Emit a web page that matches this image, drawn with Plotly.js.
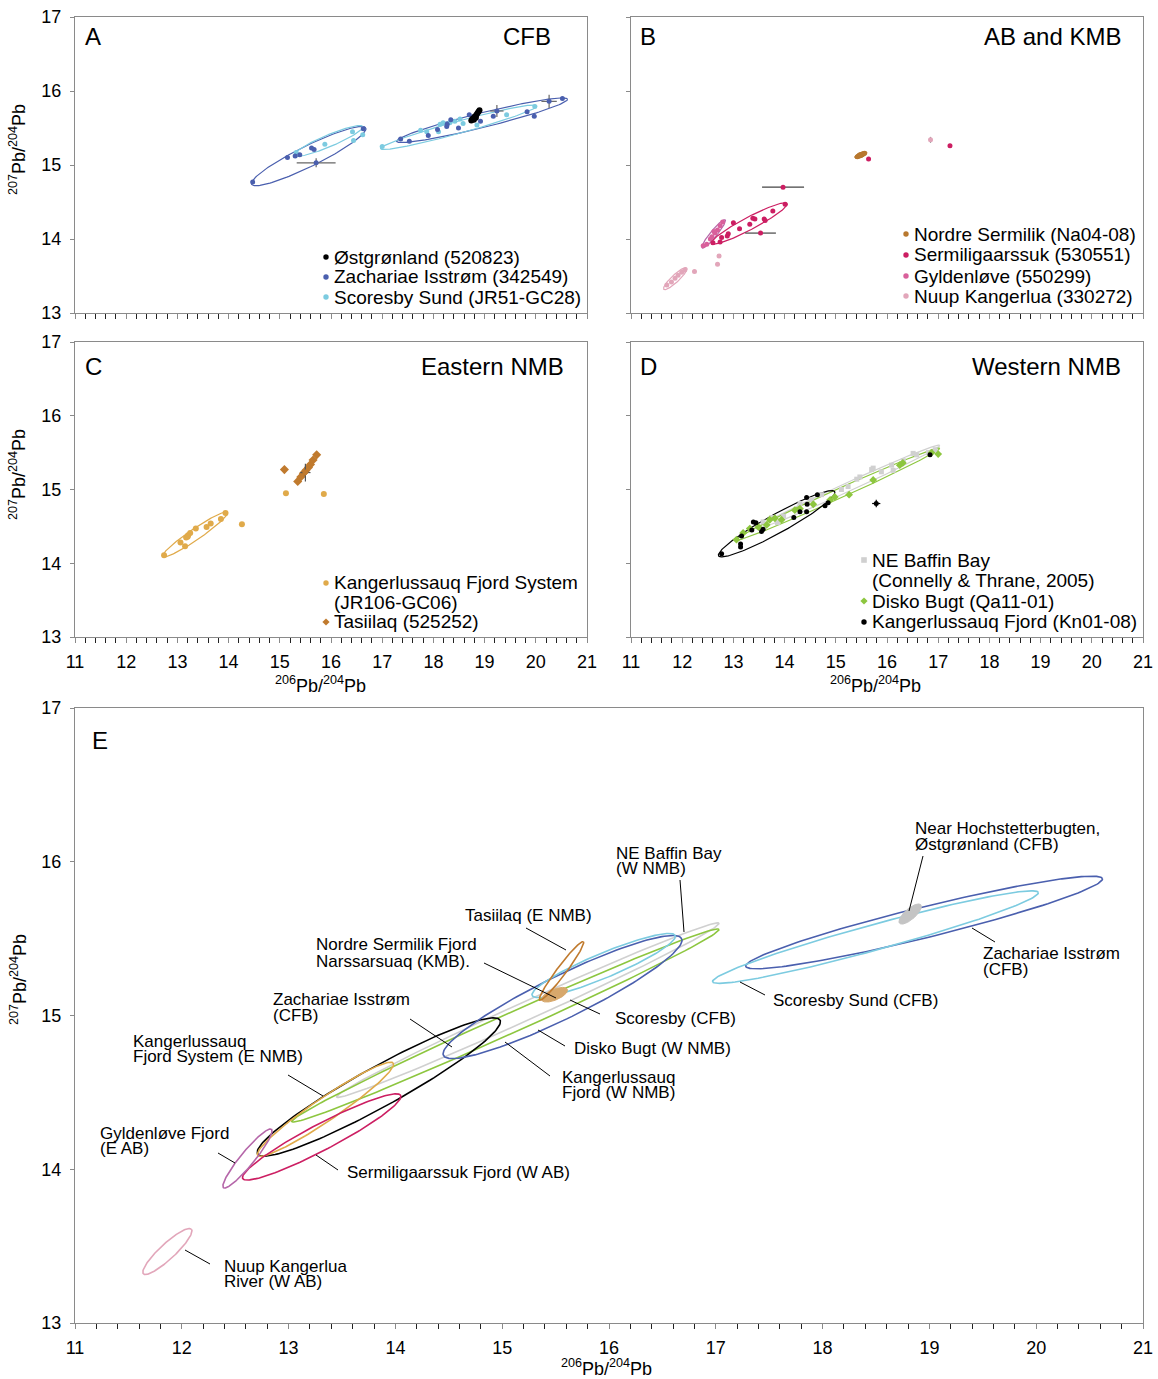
<!DOCTYPE html>
<html>
<head>
<meta charset="utf-8">
<script src="https://cdn.plot.ly/plotly-3.0.1.min.js"></script>
<style>html,body{margin:0;padding:0;background:#fff}#chart{width:1158px;height:1379px}</style>
</head>
<body>
<div id="chart"></div>
<script>
// ---------- Panel A: CFB ----------
const zachariaeX = [14.47,15.15,15.30,15.39,15.62,15.67,16.63,17.36,17.53,17.90,18.08,18.26,18.27,18.34,18.49,18.70,18.92,19.17,19.83,19.97,20.52];
const zachariaeY = [14.77,15.10,15.12,15.14,15.23,15.21,15.49,15.35,15.32,15.40,15.48,15.52,15.55,15.61,15.50,15.68,15.59,15.66,15.72,15.66,15.90];
const zachErrX = [15.71,19.24,20.26];
const zachErrY = [15.03,15.73,15.86];
const zachErrDx = [0.38,0.13,0.15];
const zachErrDy = [0.06,0.08,0.09];
const scoresbyX = [15.32,15.88,16.42,16.44,16.62,17.00,17.75,17.87,18.10,18.13,18.19,18.32,18.42,18.52,18.58,18.85,19.43,19.98];
const scoresbyY = [15.17,15.28,15.45,15.33,15.41,15.25,15.47,15.45,15.45,15.55,15.57,15.57,15.59,15.62,15.56,15.54,15.68,15.79];
const ostX = [18.74,18.76,18.78,18.80,18.82,18.84,18.86,18.88,18.90,18.79,18.83];
const ostY = [15.60,15.62,15.63,15.65,15.66,15.68,15.70,15.72,15.74,15.61,15.64];

// ---------- Panel B: AB and KMB ----------
const nordreX = [15.42,15.45,15.48,15.50,15.53,15.56,15.47];
const nordreY = [15.11,15.12,15.13,15.14,15.15,15.16,15.14];
const sermX = [15.64,17.23,14.01,13.77,13.60,13.62,13.38,13.42,13.32,13.12,13.00,12.90,12.88,12.77,12.74,12.60];
const sermY = [15.08,15.26,14.47,14.38,14.27,14.25,14.28,14.27,14.20,14.14,14.22,14.07,14.04,14.02,13.96,13.95];
const sermErrX = [13.97,13.53];
const sermErrY = [14.70,14.08];
const sermErrDx = [0.41,0.30];
const gyldX = [12.41,12.48,12.58,12.64,12.69,12.74,12.79,12.55,12.62];
const gyldY = [13.91,13.93,14.03,14.08,14.12,14.18,14.23,14.00,14.10];
const nuupX = [11.70,11.79,11.86,11.92,11.99,12.05,12.24,12.69,12.72];
const nuupY = [13.38,13.42,13.47,13.51,13.55,13.58,13.56,13.66,13.77];
const nuupErrX = [16.85];
const nuupErrY = [15.34];
const nuupErrDy = [0.04];

// ---------- Panel C: Eastern NMB ----------
const kfsX = [12.74,13.06,13.15,13.17,13.21,13.25,13.20,13.36,13.57,13.65,13.85,13.94,14.26,15.12,15.86];
const kfsY = [14.11,14.28,14.23,14.35,14.38,14.41,14.36,14.47,14.49,14.54,14.60,14.68,14.53,14.95,14.94];
const tasiX = [15.09,15.35,15.41,15.46,15.51,15.56,15.60,15.65,15.72];
const tasiY = [15.27,15.11,15.17,15.22,15.26,15.30,15.34,15.40,15.47];
const tasiErrX = [15.50];
const tasiErrY = [15.23];
const tasiErrDx = [0.10];
const tasiErrDy = [0.12];

// ---------- Panel D: Western NMB ----------
const baffinX = [13.58,13.75,13.86,13.98,14.30,14.53,14.72,15.11,15.24,15.41,15.47,15.70,15.73,15.89,16.09,16.12,16.32,16.51,16.58,16.81,16.94];
const baffinY = [14.56,14.62,14.55,14.64,14.81,14.86,14.93,15.00,15.04,15.14,15.17,15.27,15.29,15.24,15.33,15.26,15.39,15.49,15.47,15.50,15.54];
const diskoX = [13.06,13.19,13.32,13.49,13.65,13.71,13.81,13.94,14.20,14.30,14.56,14.89,14.98,15.26,15.73,16.25,16.31,16.87,17.00];
const diskoY = [14.32,14.41,14.47,14.49,14.52,14.59,14.61,14.59,14.72,14.74,14.80,14.86,14.90,14.93,15.13,15.33,15.36,15.50,15.48];
const kfX = [12.77,13.14,13.14,13.16,13.36,13.39,13.44,13.55,13.58,14.18,14.30,14.43,14.44,14.43,14.64,14.79,14.85,16.84];
const kfY = [14.13,14.26,14.22,14.37,14.45,14.56,14.55,14.43,14.46,14.62,14.70,14.70,14.80,14.89,14.93,14.78,14.82,15.47];
const kfErrX = [15.79];
const kfErrY = [14.81];
const kfErrDx = [0.08];
const kfErrDy = [0.05];

// ---------- Confidence ellipses: major-axis ends (x1,y1)-(x2,y2) and half-width in 207Pb/204Pb units ----------
const ellipseNames = ['zachL','zachR','scorL','scorR','hoch','nordre','serm','gyld','nuup','kfs','tasi','kf','disko','baffin'];
const ellipseX1 = [14.45,17.28,15.28,16.97,18.72,15.37,12.57,12.39,11.64,12.71,15.35,12.71,13.03,13.45];
const ellipseY1 = [14.74,15.32,15.13,15.22,15.60,15.10,13.94,13.88,13.32,14.09,15.10,14.10,14.31,14.47];
const ellipseX2 = [16.68,20.62,16.62,20.02,18.92,15.61,14.05,12.84,12.09,13.98,15.76,14.98,17.03,17.03];
const ellipseY2 = [15.50,15.89,15.52,15.80,15.72,15.17,14.48,14.26,13.61,14.69,15.48,14.97,15.56,15.60];
const ellipseHalfW = [0.14,0.10,0.08,0.083,0.035,0.035,0.085,0.045,0.05,0.075,0.03,0.13,0.065,0.06];

const FONT = 'Liberation Sans, Arial, Helvetica, sans-serif';
const W = 1158, H = 1379;
const C = {
  zach: '#4a5fae', scor: '#7ccbe0', ost: '#000000', hochFill: '#c4c4c4',
  nordre: '#b8782f', nordreFill: '#d7a86c', serm: '#cc1e62', gyld: '#d9609b', gyldLine: '#b566a9',
  nuup: '#e2a6ba', kfs: '#e0aa4a', tasi: '#c07a2e', baffin: '#d0d0d0', disko: '#8dc63f', kf: '#000000'
};

// aspect of one 207Pb/204Pb unit relative to one 206Pb/204Pb unit on screen
const K = 1.44;
function ellipse(i, n) {
  n = n || 160;
  const x1 = ellipseX1[i], y1 = ellipseY1[i], x2 = ellipseX2[i], y2 = ellipseY2[i];
  const cx = (x1 + x2) / 2, cy = (y1 + y2) / 2;
  const dx = x2 - x1, dy = (y2 - y1) * K;
  const L = Math.hypot(dx, dy), a = L / 2, ux = dx / L, uy = dy / L;
  const b = ellipseHalfW[i] * K;
  const xs = [], ys = [];
  for (let j = 0; j <= n; j++) {
    const t = 2 * Math.PI * j / n;
    const X = a * Math.cos(t) * ux - b * Math.sin(t) * uy;
    const Y = a * Math.cos(t) * uy + b * Math.sin(t) * ux;
    xs.push(cx + X); ys.push(cy + Y / K);
  }
  return {xs, ys};
}
function ell(name, color, ax, width, fill) {
  const e = ellipse(ellipseNames.indexOf(name));
  const tr = {x: e.xs, y: e.ys, type: 'scatter', mode: 'lines', line: {color, width: width || 1.2},
    xaxis: 'x' + ax, yaxis: 'y' + ax, hoverinfo: 'skip', showlegend: false};
  if (fill) { tr.fill = 'toself'; tr.fillcolor = fill; }
  return tr;
}
function pts(x, y, color, ax, symbol, size) {
  return {x, y, type: 'scatter', mode: 'markers', xaxis: 'x' + ax, yaxis: 'y' + ax, showlegend: false,
    marker: {color, size: size || 5, symbol: symbol || 'circle', line: {width: 0}}};
}
function errPts(x, y, dx, dy, color, ax, barColor, symbol) {
  const t = pts(x, y, color, ax, symbol);
  if (dx) t.error_x = {type: 'data', array: dx, visible: true, color: barColor, thickness: 1.2, width: 0};
  if (dy) t.error_y = {type: 'data', array: dy, visible: true, color: barColor, thickness: 1.2, width: 0};
  return t;
}

const traces = [
  // A
  ell('zachL', C.zach, '', 1.2), ell('zachR', C.zach, '', 1.2),
  ell('scorL', C.scor, '', 1.2), ell('scorR', C.scor, '', 1.2),
  pts(scoresbyX, scoresbyY, C.scor, ''),
  pts(zachariaeX, zachariaeY, C.zach, ''),
  errPts(zachErrX, zachErrY, zachErrDx, zachErrDy, C.zach, '', '#666666'),
  pts(ostX, ostY, C.ost, '', 'circle', 6),
  // B
  ell('nuup', C.nuup, '2', 1.2), ell('gyld', C.gyldLine, '2', 1.2), ell('serm', C.serm, '2', 1.2),
  ell('nordre', C.nordre, '2', 1, C.nordre),
  pts(nuupX, nuupY, C.nuup, '2'),
  errPts(nuupErrX, nuupErrY, null, nuupErrDy, C.nuup, '2', '#888888'),
  pts(gyldX, gyldY, C.gyld, '2'),
  pts(sermX, sermY, C.serm, '2'),
  errPts(sermErrX, sermErrY, sermErrDx, null, C.serm, '2', '#444444'),
  pts(nordreX, nordreY, C.nordre, '2'),
  // C
  ell('kfs', C.kfs, '3', 1.2),
  pts(kfsX, kfsY, C.kfs, '3', 'circle', 6),
  pts(tasiX, tasiY, C.tasi, '3', 'diamond', 7),
  errPts(tasiErrX, tasiErrY, tasiErrDx, tasiErrDy, C.tasi, '3', '#555555', 'diamond'),
  // D
  ell('baffin', C.baffin, '4', 1.2), ell('disko', C.disko, '4', 1.2), ell('kf', C.kf, '4', 1.2),
  pts(baffinX, baffinY, C.baffin, '4', 'square', 5),
  pts(diskoX, diskoY, C.disko, '4', 'diamond', 6),
  pts(kfX, kfY, C.kf, '4'),
  errPts(kfErrX, kfErrY, kfErrDx, kfErrDy, C.kf, '4', '#000000'),
  // E
  ell('baffin', C.baffin, '5', 1.6), ell('disko', C.disko, '5', 1.6), ell('kf', C.kf, '5', 1.6),
  ell('kfs', C.kfs, '5', 1.6), ell('serm', C.serm, '5', 1.6), ell('gyld', C.gyldLine, '5', 1.6),
  ell('nuup', C.nuup, '5', 1.6), ell('zachL', C.zach, '5', 1.6), ell('scorL', C.scor, '5', 1.6),
  ell('nordre', C.nordreFill, '5', 1, C.nordreFill), ell('tasi', C.tasi, '5', 1.6),
  ell('zachR', C.zach, '5', 1.6), ell('scorR', C.scor, '5', 1.6),
  ell('hoch', C.hochFill, '5', 1, C.hochFill)
];

// ---------- axes ----------
function dom(p0, p1, size) { return [p0 / size, p1 / size]; }
function xAx(d, anchor, labels) {
  return {domain: d, anchor, range: [11, 21], dtick: 1, tick0: 11, showgrid: false, zeroline: false,
    showline: true, linecolor: '#8a8a8a', linewidth: 1, mirror: true,
    ticks: 'outside', ticklen: 5, tickcolor: '#8a8a8a', showticklabels: labels, ticklabelstandoff: 3,
    tickfont: {family: FONT, size: 18, color: '#000'},
    minor: {dtick: 0.2, tick0: 11, ticks: 'outside', ticklen: 5, tickcolor: '#222', showgrid: false}};
}
function yAx(d, anchor, labels) {
  return {domain: d, anchor, range: [13, 17], dtick: 1, tick0: 13, showgrid: false, zeroline: false,
    showline: true, linecolor: '#8a8a8a', linewidth: 1, mirror: true,
    ticks: 'outside', ticklen: 4, tickcolor: '#8a8a8a', showticklabels: labels, ticklabelstandoff: 5,
    tickfont: {family: FONT, size: 18, color: '#000'}};
}
const yTop = [1 - 313 / H, 1 - 17 / H], yMid = [1 - 637 / H, 1 - 342 / H], yBot = [1 - 1323 / H, 1 - 708 / H];
const xLeft = dom(75, 587, W), xRight = dom(631, 1143, W), xWide = dom(75, 1143, W);

// ---------- text ----------
const annotations = [];
const shapes = [];
function txt(text, px, py, size, anchor, extra) {
  annotations.push(Object.assign({text, x: px / W, y: 1 - py / H, xref: 'paper', yref: 'paper',
    xanchor: anchor || 'left', yanchor: 'middle', showarrow: false,
    font: {family: FONT, size, color: '#000'}}, extra || {}));
}
function bullet(px, py, color, kind) {
  const s = {xref: 'paper', yref: 'paper', xsizemode: 'pixel', ysizemode: 'pixel',
    xanchor: px / W, yanchor: 1 - py / H, fillcolor: color, line: {width: 0}};
  if (kind === 'diamond') { s.type = 'path'; s.path = 'M0,-3.6 L3.6,0 L0,3.6 L-3.6,0 Z'; }
  else if (kind === 'square') { s.type = 'rect'; s.x0 = -2.8; s.x1 = 2.8; s.y0 = -2.8; s.y1 = 2.8; }
  else { s.type = 'circle'; s.x0 = -2.7; s.x1 = 2.7; s.y0 = -2.7; s.y1 = 2.7; }
  shapes.push(s);
}
function leader(x0, y0, x1, y1) {
  shapes.push({type: 'line', xref: 'paper', yref: 'paper', x0: x0 / W, y0: 1 - y0 / H, x1: x1 / W, y1: 1 - y1 / H,
    line: {color: '#000', width: 1}});
}

// panel letters and titles
txt('A', 83, 36, 24); txt('CFB', 553, 36, 24, 'right');
txt('B', 638, 36, 24); txt('AB and KMB', 1123, 36, 24, 'right');
txt('C', 83, 366, 24); txt('Eastern NMB', 566, 366, 24, 'right');
txt('D', 638, 366, 24); txt('Western NMB', 1123, 366, 24, 'right');
txt('E', 90, 740, 24);

// axis titles
const yTitle = '<sup>207</sup>Pb/<sup>204</sup>Pb', xTitle = '<sup>206</sup>Pb/<sup>204</sup>Pb';
txt(yTitle, 18, 150, 18, 'center', {textangle: -90});
txt(yTitle, 18, 475, 18, 'center', {textangle: -90});
txt(yTitle, 18, 980, 18, 'center', {textangle: -90});
txt(xTitle, 320, 684, 18, 'center');
txt(xTitle, 875, 684, 18, 'center');
txt(xTitle, 606, 1367, 18, 'center');

// legends
bullet(326, 257, C.ost); txt('Østgrønland (520823)', 332, 257, 19);
bullet(326, 277, C.zach); txt('Zachariae Isstrøm (342549)', 332, 277, 19);
bullet(326, 297, C.scor); txt('Scoresby Sund (JR51-GC28)', 332, 297, 19);

bullet(906, 234, C.nordre); txt('Nordre Sermilik (Na04-08)', 912, 234, 19);
bullet(906, 255, C.serm); txt('Sermiligaarssuk (530551)', 912, 255, 19);
bullet(906, 276, C.gyld); txt('Gyldenløve (550299)', 912, 276, 19);
bullet(906, 296, C.nuup); txt('Nuup Kangerlua (330272)', 912, 296, 19);

bullet(326, 583, C.kfs); txt('Kangerlussauq Fjord System', 332, 583, 19);
txt('(JR106-GC06)', 332, 602, 19);
bullet(326, 622, C.tasi, 'diamond'); txt('Tasiilaq (525252)', 332, 622, 19);

bullet(864, 560, C.baffin, 'square'); txt('NE Baffin Bay', 870, 560, 19);
txt('(Connelly &amp; Thrane, 2005)', 870, 580, 19);
bullet(864, 601, C.disko, 'diamond'); txt('Disko Bugt (Qa11-01)', 870, 601, 19);
bullet(864, 622, C.kf); txt('Kangerlussauq Fjord (Kn01-08)', 870, 622, 19);

// panel E labels
const LS = 17;
txt('Near Hochstetterbugten,', 913, 828, LS); txt('Østgrønland (CFB)', 913, 844, LS); leader(923, 856, 909, 911);
txt('NE Baffin Bay', 614, 853, LS); txt('(W NMB)', 614, 869, LS); leader(680, 880, 684, 932);
txt('Tasiilaq (E NMB)', 463, 915, LS); leader(526, 928, 566, 950);
txt('Nordre Sermilik Fjord', 314, 945, LS); txt('Narssarsuaq (KMB).', 314, 961, LS); leader(484, 963, 556, 998);
txt('Zachariae Isstrøm', 271, 999, LS); txt('(CFB)', 271, 1015, LS); leader(410, 1019, 452, 1047);
txt('Scoresby (CFB)', 613, 1018, LS); leader(570, 1000, 600, 1014);
txt('Scoresby Sund (CFB)', 771, 1001, LS); leader(740, 982, 765, 995);
txt('Zachariae Isstrøm', 981, 953, LS); txt('(CFB)', 981, 969, LS); leader(972, 928, 995, 942);
txt('Disko Bugt (W NMB)', 572, 1048, LS); leader(538, 1030, 565, 1046);
txt('Kangerlussauq', 560, 1077, LS); txt('Fjord (W NMB)', 560, 1092, LS); leader(505, 1042, 550, 1076);
txt('Kangerlussauq', 131, 1041, LS); txt('Fjord System (E NMB)', 131, 1056, LS); leader(288, 1075, 323, 1096);
txt('Gyldenløve Fjord', 98, 1133, LS); txt('(E AB)', 98, 1148, LS); leader(218, 1153, 235, 1163);
txt('Sermiligaarssuk Fjord (W AB)', 345, 1172, LS); leader(316, 1155, 338, 1170);
txt('Nuup Kangerlua', 222, 1266, LS); txt('River (W AB)', 222, 1281, LS); leader(185, 1250, 210, 1264);

const layout = {
  width: W, height: H, margin: {l: 0, r: 0, t: 0, b: 0},
  paper_bgcolor: '#fff', plot_bgcolor: '#fff', showlegend: false,
  font: {family: FONT, color: '#000'},
  xaxis: xAx(xLeft, 'y', false), yaxis: yAx(yTop, 'x', true),
  xaxis2: xAx(xRight, 'y2', false), yaxis2: yAx(yTop, 'x2', false),
  xaxis3: xAx(xLeft, 'y3', true), yaxis3: yAx(yMid, 'x3', true),
  xaxis4: xAx(xRight, 'y4', true), yaxis4: yAx(yMid, 'x4', false),
  xaxis5: xAx(xWide, 'y5', true), yaxis5: yAx(yBot, 'x5', true),
  annotations, shapes
};

Plotly.newPlot('chart', traces, layout, {displayModeBar: false, staticPlot: true});
</script>
</body>
</html>
